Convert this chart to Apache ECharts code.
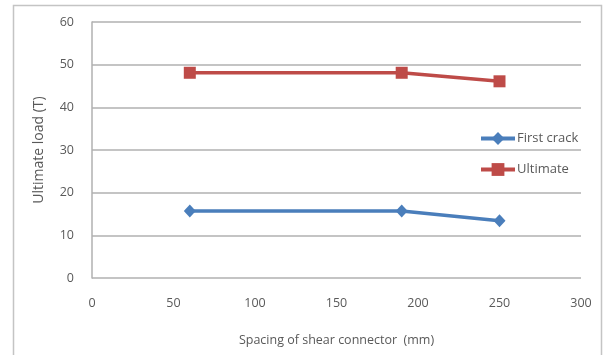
<!DOCTYPE html>
<html>
<head>
<meta charset="utf-8">
<style>
  html, body { margin: 0; padding: 0; background: #fff; }
  #chart { width: 603px; height: 355px; }
</style>
<script src="https://cdn.jsdelivr.net/npm/echarts@6/dist/echarts.min.js"></script>
</head>
<body>
<div id="chart"></div>
<script>
// Spacing of shear connector (mm)
const spacing = [60, 190, 250];
// Load values (T)
const firstCrack = [15.7, 15.7, 13.4];
const ultimate = [48.1, 48.1, 46.1];
const seriesNames = ['First crack', 'Ultimate'];

const FONT = '"Open Sans", "Noto Sans", sans-serif';
const TEXT = '#595959';
const GRIDLINE = '#b0b0b0';
const BLUE = '#4a7ebb';
const RED = '#be4b48';

const chart = echarts.init(document.getElementById('chart'), null, { renderer: 'canvas' });

chart.setOption({
  animation: false,
  backgroundColor: '#ffffff',
  textStyle: { fontFamily: FONT },
  graphic: [{
    type: 'rect',
    shape: { x: 13.5, y: 5.5, width: 588, height: 400 },
    style: { fill: 'none', stroke: '#c4c4c4', lineWidth: 1.5 },
    silent: true
  }],
  grid: { left: 92, right: 22, top: 22, bottom: 77 },
  legend: {
    orient: 'vertical',
    left: 474,
    top: 127,
    itemWidth: 34,
    itemHeight: 16,
    itemGap: 18,
    textStyle: { fontFamily: FONT, fontSize: 13, color: TEXT, padding: [0, 0, 0, -3] },
    data: [
      { name: seriesNames[0], lineStyle: { width: 4, color: BLUE } },
      { name: seriesNames[1], lineStyle: { width: 4, color: RED } }
    ]
  },
  xAxis: {
    type: 'value',
    min: 0,
    max: 300,
    interval: 50,
    name: 'Spacing of shear connector  (mm)',
    nameLocation: 'middle',
    nameGap: 56,
    nameTextStyle: { fontFamily: FONT, fontSize: 12.5, color: TEXT },
    axisLine: { show: false },
    axisTick: { show: false },
    splitLine: { show: false },
    axisLabel: { margin: 19, fontFamily: FONT, fontSize: 12.5, color: TEXT }
  },
  yAxis: {
    type: 'value',
    min: 0,
    max: 60,
    interval: 10,
    name: 'Ultimate load (T)',
    nameLocation: 'middle',
    nameGap: 46,
    nameTextStyle: { fontFamily: FONT, fontSize: 14, color: TEXT },
    axisLine: { show: true, lineStyle: { color: GRIDLINE, width: 1.5 } },
    axisTick: { show: false },
    splitLine: { show: true, lineStyle: { color: GRIDLINE, width: 1.5 } },
    axisLabel: { margin: 18, fontFamily: FONT, fontSize: 12.5, color: TEXT }
  },
  series: [
    {
      name: seriesNames[0],
      type: 'line',
      data: spacing.map((x, i) => [x, firstCrack[i]]),
      symbol: 'diamond',
      symbolSize: [12, 13],
      showSymbol: true,
      lineStyle: { color: BLUE, width: 3.5 },
      itemStyle: { color: BLUE }
    },
    {
      name: seriesNames[1],
      type: 'line',
      data: spacing.map((x, i) => [x, ultimate[i]]),
      symbol: 'rect',
      symbolSize: 12,
      showSymbol: true,
      lineStyle: { color: RED, width: 3.5 },
      itemStyle: { color: RED }
    }
  ]
});
</script>
</body>
</html>
